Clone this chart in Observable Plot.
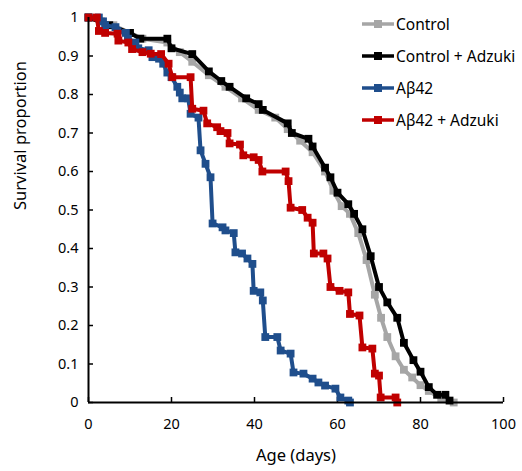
<!DOCTYPE html>
<html>
<head>
<meta charset="utf-8">
<script src="https://cdn.jsdelivr.net/npm/d3@7"></script>
<script src="https://cdn.jsdelivr.net/npm/@observablehq/plot@0.6"></script>
<style>
  html, body { margin: 0; padding: 0; background: #fff; }
  #wrap { position: relative; width: 522px; height: 471px; font-family: "Noto Sans", sans-serif; }
  #legend { position: absolute; left: 362px; top: 8px; font-size: 15.5px; color: #000; }
  .item { display: flex; align-items: center; height: 32px; }
  .item svg { margin-right: 2px; }
</style>
</head>
<body>
<div id="wrap"></div>
<script>
// Series names and colours
const seriesNames = ["Control", "Control + Adzuki", "Aβ42", "Aβ42 + Adzuki"];
const seriesColors = ["#a6a6a6", "#000000", "#1f4e8c", "#c00000"];

// Control: [day, survival]
const control = [
  [0,1],[3,0.99],[6,0.98],[10,0.96],[13,0.945],[19,0.935],[22,0.91],[25,0.885],[29,0.85],
  [33,0.82],[37,0.79],[41,0.76],[45,0.74],[48,0.71],[51,0.68],[54,0.65],[57,0.6],[59,0.55],
  [61,0.51],[63,0.49],[65,0.44],[67,0.37],[69,0.28],[70.5,0.22],[72,0.17],[74,0.12],[76,0.085],
  [78,0.065],[80,0.045],[82,0.03],[85,0.01],[88,0]
];
// Control + Adzuki
const controlAdzuki = [
  [0,1],[5,0.98],[10,0.96],[12.5,0.945],[19,0.945],[20,0.92],[25,0.905],[29,0.86],[32,0.835],
  [34,0.82],[38,0.79],[41,0.775],[42,0.76],[48,0.725],[49,0.70],[53,0.685],[54,0.665],[57,0.61],
  [58.3,0.585],[60,0.545],[62.6,0.515],[64,0.49],[66,0.45],[68,0.38],[70,0.30],[72,0.26],
  [74.4,0.22],[76,0.155],[78.3,0.11],[80,0.08],[82,0.04],[84,0.02],[86,0.02],[87,0.005]
];
// Aβ42
const abeta = [
  [0,1],[2.5,1],[3.5,0.99],[4,0.98],[6.5,0.975],[7,0.965],[9,0.96],[9.5,0.945],[11.3,0.935],
  [12,0.92],[14.5,0.915],[15.4,0.897],[17,0.893],[18,0.88],[19,0.857],[20,0.845],[21.4,0.82],
  [22,0.805],[22.6,0.79],[24,0.79],[24.6,0.75],[26.5,0.74],[27,0.655],[28.2,0.62],[29.4,0.585],
  [29.9,0.465],[32.3,0.455],[33,0.447],[35,0.44],[35.4,0.39],[37,0.387],[38.3,0.374],[39.5,0.36],
  [39.8,0.29],[41.4,0.286],[42,0.265],[42.6,0.17],[45.5,0.17],[46.3,0.135],[48.7,0.127],
  [49.4,0.078],[51.8,0.075],[54,0.062],[55.4,0.052],[57,0.044],[59.5,0.036],[60.7,0.013],
  [62.6,0.005],[63,0]
];
// Aβ42 + Adzuki
const abetaAdzuki = [
  [0,1],[2,1],[2.5,0.965],[4,0.96],[7,0.958],[7.2,0.94],[9.6,0.935],[10.5,0.918],[13,0.91],
  [15,0.906],[17.5,0.905],[19.3,0.88],[20.2,0.845],[24.6,0.845],[25,0.763],[27.7,0.758],
  [28.6,0.725],[31,0.715],[31.8,0.705],[33.5,0.70],[34,0.673],[36.5,0.67],[37.3,0.642],
  [39.8,0.637],[41,0.63],[41.9,0.6],[47.5,0.6],[48.2,0.575],[48.7,0.506],[51.5,0.5],[52.8,0.48],
  [54,0.467],[54.3,0.387],[56.6,0.387],[57.6,0.374],[58.3,0.3],[60.5,0.29],[62.6,0.286],
  [63,0.23],[65.3,0.226],[66,0.143],[68.4,0.14],[69,0.075],[70,0.07],[70.4,0.013],[74,0.013],
  [74.4,0]
];

const xTicks = [0, 20, 40, 60, 80, 100];
const yTicks = [0, 0.1, 0.2, 0.3, 0.4, 0.5, 0.6, 0.7, 0.8, 0.9, 1];
const xLabel = "Age (days)";
const yLabel = "Survival proportion";

const allSeries = [control, controlAdzuki, abeta, abetaAdzuki];
const rows = allSeries.map((s, i) => s.map(([day, surv]) => ({series: seriesNames[i], day, surv})));

const font = "Noto Sans, sans-serif";
const lineMarks = rows.flatMap((r, i) => [
  Plot.line(r, {x: "day", y: "surv", stroke: seriesColors[i], strokeWidth: 4, strokeLinejoin: "miter"}),
  Plot.dot(r, {x: "day", y: "surv", symbol: "square", r: 4.4, fill: seriesColors[i], stroke: "none"})
]);

const chart = Plot.plot({
  width: 522,
  height: 471,
  marginLeft: 88,
  marginRight: 19,
  marginTop: 17,
  marginBottom: 69,
  style: {fontFamily: font, fontSize: "14.5px", color: "#000", background: "#fff"},
  x: {domain: [0, 100]},
  y: {domain: [0, 1]},
  marks: [
    Plot.axisX({ticks: xTicks, tickSize: -5, tickPadding: 21, tickFormat: d => String(d), label: null, fontSize: 14.5, strokeWidth: 1.5}),
    Plot.axisY({ticks: yTicks, tickSize: -5, tickPadding: 15, tickFormat: d => String(+d.toFixed(1)), label: null, fontSize: 14.5, strokeWidth: 1.5}),
    ...lineMarks,
    Plot.ruleY([0], {stroke: "#000", strokeWidth: 2}),
    Plot.ruleX([0], {stroke: "#000", strokeWidth: 2}),
    Plot.text([xLabel], {frameAnchor: "bottom", dy: 58, text: d => d, fontSize: 16.5, fill: "#000"}),
    Plot.text([yLabel], {frameAnchor: "left", dx: -68, rotate: -90, text: d => d, fontSize: 16.5, fill: "#000"})
  ]
});
const wrap = document.getElementById("wrap");
wrap.appendChild(chart);

// Legend
const legend = document.createElement("div");
legend.id = "legend";
seriesNames.forEach((name, i) => {
  const item = document.createElement("div");
  item.className = "item";
  item.innerHTML = `<svg width="32" height="10"><line x1="0" y1="5" x2="32" y2="5" stroke="${seriesColors[i]}" stroke-width="3.5"/><rect x="12" y="1" width="8" height="8" fill="${seriesColors[i]}"/></svg><span>${name}</span>`;
  legend.appendChild(item);
});
wrap.appendChild(legend);
</script>
</body>
</html>
